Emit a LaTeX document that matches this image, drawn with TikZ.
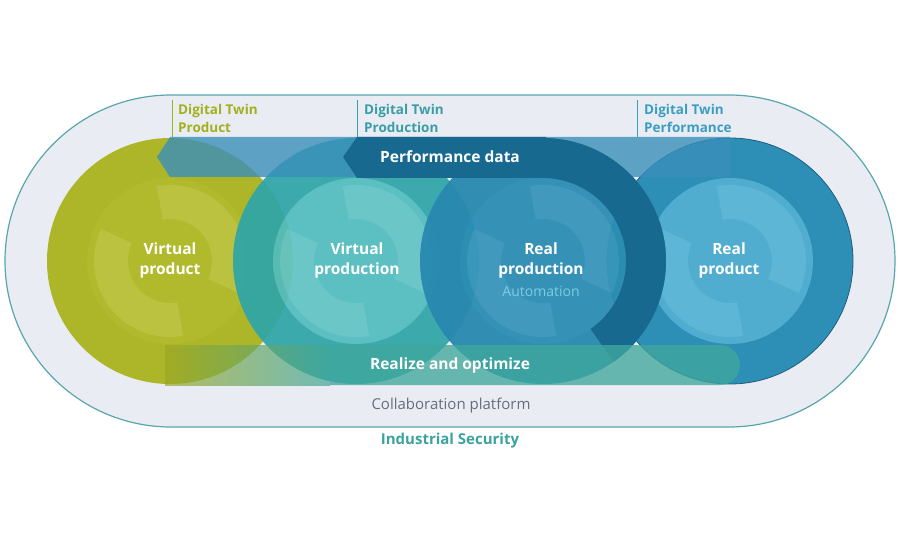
\documentclass[tikz,border=0pt]{standalone}
\usepackage{fontspec}
\setmainfont{Open Sans}
\usetikzlibrary{positioning}
% colours
\definecolor{platfill}{HTML}{E9EDF3}
\definecolor{platline}{HTML}{58A6AC}
\definecolor{vpring}{HTML}{ACB628}
\definecolor{vpinner}{HTML}{B1BA2D}
\definecolor{vpswirl}{HTML}{BAC23F}
\definecolor{vtring}{HTML}{2FA5A7}
\definecolor{vtinner}{HTML}{52BCBE}
\definecolor{vtswirl}{HTML}{62C4C5}
\definecolor{rtring}{HTML}{2888AF}
\definecolor{rtinner}{HTML}{2C8DB3}
\definecolor{rtswirl}{HTML}{3896BB}
\definecolor{rtdark}{HTML}{176990}
\definecolor{rpring}{HTML}{2D8EB6}
\definecolor{rpinner}{HTML}{50ADCF}
\definecolor{rpswirl}{HTML}{5DB6D6}
\definecolor{rpline}{HTML}{1D5E80}
\definecolor{bandblue}{HTML}{3A8FBA}
\definecolor{bandolive}{HTML}{9DA723}
\definecolor{bandteal}{HTML}{3FA79D}
\definecolor{twinolive}{HTML}{A3B01E}
\definecolor{twinteal}{HTML}{3A9DA6}
\definecolor{twinblue}{HTML}{3C9DC3}
\definecolor{autoblue}{HTML}{7DCCE6}
\definecolor{platgray}{HTML}{666E7B}
\definecolor{secteal}{HTML}{3AA39E}
\tikzset{
	bigtext/.style={font=\bfseries\fontsize{15.5}{20}\selectfont, text=white, align=center}
}
\tikzset{
	twintext/.style={font=\bfseries\fontsize{13.5}{18}\selectfont, align=left, anchor=west, inner sep=0pt}
}
% one circle of the loop: centre, ring, inner disc, swirl
\newcommand{\loopcircle}[4]{%
  \fill[#2] (#1) circle[radius=123];
  \fill[#3] (#1) circle[radius=83];
  \fill[#4] ([shift={(100:76)}]#1) arc[start angle=100,end angle=-25,radius=76]
    -- ([shift={(-25:42)}]#1) arc[start angle=-25,end angle=100,radius=42] -- cycle;
  \fill[#4] ([shift={(280:76)}]#1) arc[start angle=280,end angle=155,radius=76]
    -- ([shift={(155:42)}]#1) arc[start angle=155,end angle=280,radius=42] -- cycle;
}

\begin{document}
\begin{tikzpicture}[x=1pt,y=1pt]
      \useasboundingbox (0,0) rectangle (900,550);
      % collaboration platform
      \draw[platline, fill=platfill, line width=1.2pt, rounded corners=166pt] (5,123) rectangle (895,455);
      % circle centres
      \coordinate (vprod) at (170,289);
      \coordinate (vprtn) at (356,289);
      \coordinate (rprtn) at (543,289);
      \coordinate (rprod) at (730,289);
      % circles, back to front
      \loopcircle{rprod}{rpring}{rpinner}{rpswirl}
      \draw[rpline, line width=0.8pt] (rprod) circle[radius=123];
      \loopcircle{vprod}{vpring}{vpinner}{vpswirl}
      \begin{scope}[transparency group, opacity=0.93]
        \loopcircle{vprtn}{vtring}{vtinner}{vtswirl}
      \end{scope}
      \begin{scope}[transparency group, opacity=0.95]
        \loopcircle{rprtn}{rtring}{rtinner}{rtswirl}
      \end{scope}
      % performance data band
      \fill[bandblue, opacity=0.8] (170,413) -- (730,413) -- (730,373) -- (170,373) -- (157,393) -- cycle;
      \fill[rtdark] ([shift={(90:123)}]rprtn) arc[start angle=90,end angle=-55,radius=123]
        -- ([shift={(-55:83)}]rprtn) arc[start angle=-55,end angle=90,radius=83] -- cycle;
      \fill[rtdark] (357,413) -- (546,413) -- (546,372) -- (357,372) -- (343,393) -- cycle;
      % realize and optimize band
      \shade[left color=bandolive, right color=bandteal, opacity=0.7] (165,165) rectangle (330,205);
      \fill[bandteal, opacity=0.78] (330,165) -- (720,165) arc[start angle=-90,end angle=90,radius=20] -- (330,205) -- cycle;
      % digital twin tags
      \draw[twinolive, line width=0.8pt] (172,413) -- (172,450);
      \draw[twinteal, line width=0.8pt] (357,413) -- (357,450);
      \draw[twinblue, line width=0.8pt] (637,413) -- (637,450);
      \node[twintext, text=twinolive] (dtprod) at (178,432) {Digital Twin\\Product};
      \node[twintext, text=twinteal] (dtprtn) at (364,432) {Digital Twin\\Production};
      \node[twintext, text=twinblue] (dtperf) at (644,432) {Digital Twin\\Performance};
      % texts
      \node[bigtext] (perf) at (450,393) {Performance data};
      \node[bigtext] (vprodtxt) at (170,290) {Virtual\\product};
      \node[bigtext] (vprtntxt) at (357,290) {Virtual\\production};
      \node[bigtext] (rprtntxt) at (541,290) {Real\\production};
      \node[font=\fontsize{14}{16}\selectfont, text=autoblue] (auto) at (541,259) {Automation};
      \node[bigtext] (rprodtxt) at (729,290) {Real\\product};
      \node[bigtext] (realize) at (450,185) {Realize and optimize};
      \node[font=\fontsize{15}{18}\selectfont, text=platgray] (collab) at (451,144) {Collaboration platform};
      \node[font=\bfseries\fontsize{15}{18}\selectfont, text=secteal] (secur) at (450,109) {Industrial Security};
    \end{tikzpicture}
\end{document}
